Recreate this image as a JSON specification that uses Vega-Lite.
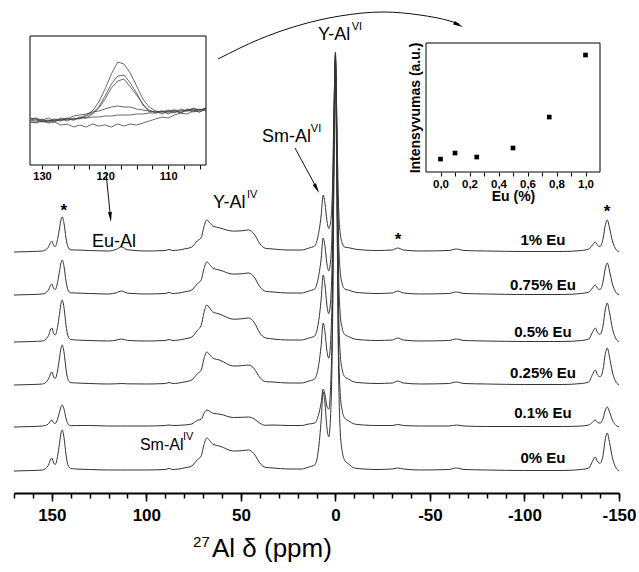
{
"$schema": "https://vega.github.io/schema/vega-lite/v6.json",
"width": 639, "height": 493,
"autosize": {"type": "none"},
"padding": {"left": 0, "top": 0, "right": 0, "bottom": 79},
"background": "white",
"config": {"view": {"stroke": null}, "font": "Liberation Sans"},
"encoding": {
 "x": {"field": "x", "type": "quantitative", "scale": {"domain": [170, -150], "range": [14, 619], "nice": false, "zero": false}, "axis": null},
 "y": {"field": "y", "type": "quantitative", "scale": {"domain": [0, 471], "range": [471, 0], "nice": false, "zero": false}, "axis": null}
},
"layer": [
 {"data": {"values": [{"x": 0, "y": 0}]},
  "mark": {"type": "point", "opacity": 0},
  "encoding": {"x": {"field": "x", "type": "quantitative",
    "scale": {"domain": [170, -150], "range": [14, 619], "nice": false, "zero": false},
    "axis": {"title": null, "orient": "bottom",
     "values": [170,160,150,140,130,120,110,100,90,80,70,60,50,40,30,20,10,0,-10,-20,-30,-40,-50,-60,-70,-80,-90,-100,-110,-120,-130,-140,-150],
     "labels": false, "domain": false, "grid": false, "tickColor": "#000", "tickWidth": 1.5, "tickSize": 5}}}},
 {"data": {"values": [
   {"x":170,"a":219,"b":176,"c":129,"d":86,"f":44,"g":0},
   {"x":160,"a":219.5,"b":176.5,"c":129.5,"d":86.5,"f":44.5,"g":0.5},
   {"x":155,"a":220,"b":177,"c":130,"d":87,"f":45,"g":1},
   {"x":152,"a":223.4,"b":180.4,"c":134.6,"d":91.2,"f":46.8,"g":5.2},
   {"x":150,"a":230,"b":187,"c":143,"d":99,"f":51,"g":13},
   {"x":149,"a":225.6,"b":182.6,"c":137.4,"d":93.8,"f":48.2,"g":7.8},
   {"x":148.2,"a":224.5,"b":181.5,"c":136,"d":92.5,"f":47.5,"g":6.5},
   {"x":147,"a":231.3,"b":188.3,"c":143.7,"d":100,"f":51.7,"g":14.4},
   {"x":146,"a":241.8,"b":198.8,"c":156.3,"d":112,"f":58.3,"g":26.7},
   {"x":145,"a":252.3,"b":209.3,"c":168.9,"d":124,"f":64.9,"g":39},
   {"x":144.5,"a":254,"b":211,"c":171,"d":126,"f":66,"g":41},
   {"x":143.5,"a":247,"b":204,"c":162.6,"d":118,"f":61.6,"g":32.8},
   {"x":142.5,"a":233,"b":190,"c":145.8,"d":102,"f":52.8,"g":16.4},
   {"x":141.5,"a":224.3,"b":181.3,"c":135.3,"d":92,"f":47.3,"g":6.2},
   {"x":140,"a":221.1,"b":178.1,"c":131.5,"d":88.4,"f":45.3,"g":2.5},
   {"x":137,"a":221,"b":178,"c":131,"d":88,"f":45.5,"g":2},
   {"x":130,"a":220.5,"b":177.5,"c":130.5,"d":87.5,"f":45.5,"g":1.5},
   {"x":120,"a":220,"b":177,"c":130,"d":87,"f":45,"g":1},
   {"x":116,"a":221.6,"b":178.2,"c":130.8,"d":87.2,"f":45,"g":1},
   {"x":113,"a":224,"b":180,"c":132,"d":87.5,"f":45,"g":1},
   {"x":110,"a":221.2,"b":177.9,"c":130.6,"d":87.2,"f":45,"g":1},
   {"x":100,"a":220,"b":177,"c":130,"d":87,"f":45,"g":1},
   {"x":90,"a":220.5,"b":177.5,"c":130.5,"d":87.5,"f":45.5,"g":1.5},
   {"x":88,"a":221.5,"b":178.5,"c":131.5,"d":88.5,"f":46,"g":2.5},
   {"x":86,"a":220.5,"b":177.5,"c":130.5,"d":87.5,"f":45.5,"g":1.5},
   {"x":80,"a":222,"b":179,"c":132,"d":89,"f":46,"g":3},
   {"x":76,"a":224,"b":181,"c":134,"d":91,"f":47,"g":5},
   {"x":73,"a":230.2,"b":187.3,"c":140.7,"d":97.3,"f":50.7,"g":11.3},
   {"x":71,"a":233.4,"b":190.9,"c":145.7,"d":100.9,"f":51.7,"g":14.9},
   {"x":69.5,"a":244.6,"b":202.4,"c":158.6,"d":112.4,"f":57.6,"g":26.4},
   {"x":68,"a":251,"b":209,"c":166,"d":119,"f":61,"g":33},
   {"x":66.5,"a":248.4,"b":206.4,"c":163,"d":116.4,"f":59.6,"g":30.4},
   {"x":65,"a":245.2,"b":203.1,"c":159.3,"d":113.1,"f":57.9,"g":27.1},
   {"x":61,"a":243,"b":200.8,"c":156.8,"d":110.8,"f":56.8,"g":24.8},
   {"x":54,"a":239.9,"b":196.9,"c":151.8,"d":105,"f":53.5,"g":20},
   {"x":49,"a":240.3,"b":197.3,"c":152.3,"d":105.4,"f":53.7,"g":20.4},
   {"x":46,"a":241,"b":198,"c":153,"d":106,"f":54,"g":21},
   {"x":43,"a":237,"b":194,"c":148.7,"d":102.4,"f":52.2,"g":17.2},
   {"x":40,"a":227.4,"b":184.4,"c":138.1,"d":93.6,"f":47.8,"g":8},
   {"x":37,"a":222.7,"b":179.7,"c":133.1,"d":89.4,"f":45.7,"g":3.6},
   {"x":33,"a":222,"b":179,"c":132,"d":89,"f":46,"g":3},
   {"x":25,"a":221,"b":178,"c":131,"d":88,"f":45.5,"g":2},
   {"x":18,"a":221,"b":178,"c":131,"d":88,"f":45.5,"g":2},
   {"x":14,"a":223,"b":180,"c":133,"d":90,"f":47,"g":4},
   {"x":11,"a":225,"b":182,"c":135,"d":92,"f":48,"g":6},
   {"x":9,"a":236.6,"b":193.6,"c":148,"d":104.3,"f":55.7,"g":20.9},
   {"x":7.5,"a":256,"b":213,"c":172.6,"d":126.3,"f":68.7,"g":51.4},
   {"x":6.5,"a":276,"b":233,"c":196,"d":148,"f":82,"g":79},
   {"x":5.5,"a":267.5,"b":224.5,"c":186,"d":138.7,"f":76.3,"g":67.2},
   {"x":4.5,"a":250.4,"b":207.4,"c":165.9,"d":120.1,"f":64.9,"g":43.5},
   {"x":3.5,"a":242.6,"b":200.1,"c":157.4,"d":112.8,"f":61.9,"g":34.2},
   {"x":2.5,"a":249.6,"b":211.3,"c":171.4,"d":130.7,"f":86.3,"g":57.5},
   {"x":1.5,"a":286.2,"b":259.7,"c":230.5,"d":199,"f":165.5,"g":146},
   {"x":0.75,"a":363,"b":355.3,"c":346.5,"d":328.3,"f":304.3,"g":312.8},
   {"x":0,"a":411,"b":415,"c":419,"d":409,"f":391,"g":417},
   {"x":-0.75,"a":353.4,"b":343.3,"c":332,"d":312.1,"f":286.9,"g":291.9},
   {"x":-1.5,"a":276.6,"b":247.7,"c":216,"d":182.9,"f":148.1,"g":125.1},
   {"x":-2.5,"a":238.2,"b":199.9,"c":158,"d":118.3,"f":78.7,"g":41.7},
   {"x":-3.5,"a":228.6,"b":188,"c":143.5,"d":102.2,"f":61.4,"g":20.9},
   {"x":-5,"a":223.8,"b":182,"c":136.3,"d":94.1,"f":52.7,"g":10.4},
   {"x":-7,"a":223.3,"b":180.9,"c":134.5,"d":91.9,"f":50.2,"g":7},
   {"x":-10,"a":222,"b":179,"c":132,"d":89,"f":47,"g":3},
   {"x":-15,"a":221,"b":178,"c":131,"d":88,"f":46,"g":2},
   {"x":-22,"a":220.5,"b":177.5,"c":130.5,"d":87.5,"f":45.5,"g":1.5},
   {"x":-30,"a":221,"b":178,"c":131,"d":88,"f":45.5,"g":2},
   {"x":-33,"a":223,"b":180,"c":133,"d":90,"f":46.5,"g":3},
   {"x":-36,"a":221,"b":178,"c":131,"d":88,"f":45.5,"g":2},
   {"x":-45,"a":220,"b":177,"c":130,"d":87,"f":45,"g":1},
   {"x":-60,"a":220.5,"b":177.5,"c":130.5,"d":87.5,"f":45,"g":1.5},
   {"x":-64,"a":222,"b":179,"c":132,"d":89,"f":46,"g":3},
   {"x":-68,"a":220.5,"b":177.5,"c":130.5,"d":87.5,"f":45,"g":1.5},
   {"x":-80,"a":220,"b":177,"c":130,"d":87,"f":44.5,"g":1},
   {"x":-100,"a":219.5,"b":176.5,"c":129.5,"d":86.5,"f":44.5,"g":0.5},
   {"x":-120,"a":219.5,"b":176.5,"c":129.5,"d":86.5,"f":44.5,"g":0.5},
   {"x":-130,"a":220.5,"b":177.5,"c":130.5,"d":87.5,"f":45,"g":1.5},
   {"x":-134,"a":222,"b":179,"c":132,"d":89,"f":46,"g":3},
   {"x":-136,"a":226,"b":183,"c":138.8,"d":96.5,"f":48.9,"g":9.8},
   {"x":-137.5,"a":229,"b":186,"c":143,"d":101,"f":51,"g":14},
   {"x":-138.5,"a":226,"b":183,"c":138.8,"d":96.5,"f":48.9,"g":9.8},
   {"x":-140,"a":224.5,"b":181.5,"c":136.7,"d":94.3,"f":47.9,"g":7.7},
   {"x":-141.5,"a":231.8,"b":188.8,"c":144.6,"d":100.8,"f":52,"g":15.2},
   {"x":-142.8,"a":246.2,"b":203.2,"c":162.2,"d":117.5,"f":61,"g":32.3},
   {"x":-143.8,"a":251,"b":208,"c":168,"d":123,"f":64,"g":38},
   {"x":-145,"a":243,"b":200,"c":158.3,"d":113.8,"f":59,"g":28.5},
   {"x":-146.5,"a":230.2,"b":187.2,"c":142.7,"d":99,"f":51,"g":13.3},
   {"x":-148,"a":222.8,"b":179.8,"c":133.7,"d":90.4,"f":46.4,"g":4.6},
   {"x":-150,"a":219,"b":176,"c":129,"d":86,"f":44,"g":0}
  ]},
  "transform": [{"fold": ["a","b","c","d","f","g"], "as": ["s","y"]}],
  "mark": {"type": "line", "interpolate": "monotone", "stroke": "#333", "strokeWidth": 1},
  "encoding": {
   "x": {"field": "x", "type": "quantitative",
    "scale": {"domain": [170, -150], "range": [14, 619], "nice": false, "zero": false},
    "axis": {"title": null, "orient": "bottom",
     "values": [150,100,50,0,-50,-100,-150],
     "labelExpr": "'' + datum.value",
     "grid": false, "domainColor": "#000", "domainWidth": 2, "tickColor": "#000", "tickWidth": 1.5, "tickSize": 8,
     "labelFontSize": 17, "labelFontWeight": "bold", "labelColor": "#000", "labelPadding": 6,
     "labelOverlap": false, "labelFlush": false, "labelBound": false}},
   "detail": {"field": "s"}
  }},
 {"data": {"values": [
   {"arrow":"curve","x":62.1,"y":412},{"arrow":"curve","x":39.9,"y":432},{"arrow":"curve","x":18.7,"y":446},
   {"arrow":"curve","x":-2.4,"y":455},{"arrow":"curve","x":-25.2,"y":459},{"arrow":"curve","x":-44.7,"y":456},
   {"arrow":"curve","x":-60.6,"y":450},{"arrow":"curve","x":-65.5,"y":447},
   {"arrow":"eu","x":121.3,"y":298},{"arrow":"eu","x":119.1,"y":256},
   {"arrow":"sm","x":21.4,"y":323},{"arrow":"sm","x":10.2,"y":284}
  ]},
  "mark": {"type": "line", "interpolate": "monotone", "stroke": "#111", "strokeWidth": 1},
  "encoding": {"detail": {"field": "arrow"}}},
 {"data": {"values": [{"x":-65.1,"y":446.1}]},
  "mark": {"type": "point", "shape": "M0,-1L0.38,1L-0.38,1Z", "size": 100, "filled": true, "color": "#000", "opacity": 1, "angle": 115}},
 {"data": {"values": [{"x":119.0,"y":254}]},
  "mark": {"type": "point", "shape": "M0,-1L0.38,1L-0.38,1Z", "size": 100, "filled": true, "color": "#000", "opacity": 1, "angle": 174}},
 {"data": {"values": [{"x":9.9,"y":282.4}]},
  "mark": {"type": "point", "shape": "M0,-1L0.38,1L-0.38,1Z", "size": 100, "filled": true, "color": "#000", "opacity": 1, "angle": 152}},
 {"data": {"values": [
   {"t":"Y-Al","x":9.2,"y":431},{"t":"Sm-Al","x":38.8,"y":329},{"t":"Y-Al","x":64.7,"y":263},{"t":"Eu-Al","x":128.7,"y":224}
  ]},
  "mark": {"type": "text", "align": "left", "baseline": "alphabetic", "fontSize": 18, "color": "#000"},
  "encoding": {"text": {"field": "t"}}},
 {"data": {"values": [{"t":"Sm-Al","x":103.4,"y":21}]},
  "mark": {"type": "text", "align": "left", "baseline": "alphabetic", "fontSize": 16, "color": "#000"},
  "encoding": {"text": {"field": "t"}}},
 {"data": {"values": [
   {"t":"VI","x":-8.6,"y":441},{"t":"VI","x":13.0,"y":339},{"t":"IV","x":46.8,"y":273},{"t":"IV","x":80.6,"y":31}
  ]},
  "mark": {"type": "text", "align": "left", "baseline": "alphabetic", "fontSize": 11, "color": "#000"},
  "encoding": {"text": {"field": "t"}}},
 {"data": {"values": [
   {"t":"*","x":143.6,"y":255},{"t":"*","x":-33.1,"y":226},{"t":"*","x":-143.7,"y":254}
  ]},
  "mark": {"type": "text", "align": "center", "baseline": "alphabetic", "fontSize": 17, "fontWeight": "bold", "color": "#000"},
  "encoding": {"text": {"field": "t"}}},
 {"data": {"values": [
   {"t":"1% Eu","x":-109.8,"y":231},{"t":"0.75% Eu","x":-109.8,"y":186},{"t":"0.5% Eu","x":-109.8,"y":139},
   {"t":"0.25% Eu","x":-109.8,"y":98},{"t":"0.1% Eu","x":-109.8,"y":58},{"t":"0% Eu","x":-109.8,"y":13}
  ]},
  "mark": {"type": "text", "align": "center", "baseline": "middle", "fontSize": 15, "fontWeight": "bold", "color": "#000"},
  "encoding": {"text": {"field": "t"}}},
 {"data": {"values": [{"t":"Al δ (ppm)","x":65.3,"y":-86}]},
  "mark": {"type": "text", "align": "left", "baseline": "alphabetic", "fontSize": 26, "color": "#000"},
  "encoding": {"text": {"field": "t"}}},
 {"data": {"values": [{"t":"27","x":75.3,"y":-76}]},
  "mark": {"type": "text", "align": "left", "baseline": "alphabetic", "fontSize": 15, "color": "#000"},
  "encoding": {"text": {"field": "t"}}},
 {"data": {"values": [{"x": 131.9, "x1": 104, "y": 0, "y1": 129}]},
  "mark": {"type": "rect", "fill": "white", "stroke": "#000", "strokeWidth": 1},
  "encoding": {
   "x": {"field": "x", "type": "quantitative", "scale": {"domain": [131.9, 104], "range": [30, 206], "nice": false, "zero": false}, "axis": null},
   "x2": {"field": "x1"},
   "y": {"field": "y", "type": "quantitative", "scale": {"domain": [0, 129], "range": [165, 36], "nice": false, "zero": false}, "axis": null},
   "y2": {"field": "y1"}}},
 {"data": {"values": [
   {"x":131.8,"a":45,"b":43,"c":45,"d":46,"e":47,"f":43},
   {"x":131,"a":44,"b":42,"c":46,"d":47,"e":46,"f":43},
   {"x":130,"a":46,"b":44,"c":43,"d":45,"e":44,"f":44},
   {"x":129,"a":43,"b":45,"c":44,"d":47,"e":42,"f":44},
   {"x":128,"a":45,"b":43,"c":46,"d":44,"e":43,"f":45},
   {"x":127,"a":44,"b":46,"c":45,"d":47,"e":40,"f":45},
   {"x":126,"a":47,"b":44,"c":46,"d":46,"e":41,"f":46},
   {"x":125,"a":45,"b":47,"c":45,"d":49,"e":38,"f":46},
   {"x":124,"a":47,"b":46,"c":48,"d":50,"e":40,"f":47},
   {"x":123,"a":50,"b":49,"c":47,"d":51,"e":38,"f":47},
   {"x":122,"a":54,"b":52,"c":51,"d":53,"e":41,"f":48},
   {"x":121,"a":63,"b":58,"c":57,"d":54,"e":39,"f":48},
   {"x":120,"a":76,"b":69,"c":66,"d":56,"e":40,"f":49},
   {"x":119,"a":91,"b":81,"c":77,"d":58,"e":38,"f":49},
   {"x":118,"a":103,"b":89,"c":84,"d":59,"e":41,"f":50},
   {"x":117,"a":101,"b":90,"c":86,"d":58,"e":39,"f":50},
   {"x":116,"a":92,"b":82,"c":78,"d":58,"e":41,"f":50},
   {"x":115,"a":79,"b":72,"c":70,"d":56,"e":40,"f":51},
   {"x":114,"a":66,"b":60,"c":61,"d":55,"e":42,"f":51},
   {"x":113,"a":58,"b":55,"c":53,"d":54,"e":44,"f":52},
   {"x":112,"a":54,"b":52,"c":54,"d":53,"e":46,"f":52},
   {"x":111,"a":53,"b":54,"c":51,"d":54,"e":48,"f":53},
   {"x":110,"a":55,"b":51,"c":54,"d":53,"e":47,"f":53},
   {"x":109,"a":52,"b":54,"c":55,"d":55,"e":50,"f":53},
   {"x":108,"a":56,"b":52,"c":52,"d":54,"e":52,"f":54},
   {"x":107,"a":54,"b":55,"c":56,"d":55,"e":51,"f":54},
   {"x":106,"a":57,"b":53,"c":55,"d":56,"e":54,"f":55},
   {"x":105,"a":55,"b":56,"c":53,"d":55,"e":53,"f":55},
   {"x":104,"a":56,"b":54,"c":57,"d":57,"e":56,"f":56}
  ]},
  "transform": [{"fold": ["a","b","c","d","e","f"], "as": ["s","y"]}],
  "mark": {"type": "line", "stroke": "#444", "strokeWidth": 0.8},
  "encoding": {
   "x": {"field": "x", "type": "quantitative",
    "scale": {"domain": [131.9, 104], "range": [30, 206], "nice": false, "zero": false},
    "axis": {"title": null, "orient": "bottom", "offset": -328,
     "values": [130,127.5,125,122.5,120,117.5,115,112.5,110,107.5,105],
     "labelExpr": "datum.value % 10 === 0 ? '' + datum.value : ''",
     "grid": false, "domain": false, "tickColor": "#000", "tickWidth": 1, "tickSize": 4,
     "labelFontSize": 11, "labelFontWeight": "bold", "labelColor": "#000", "labelPadding": 1,
     "labelOverlap": false, "labelFlush": false, "labelBound": false}},
   "y": {"field": "y", "type": "quantitative",
    "scale": {"domain": [0, 129], "range": [165, 36], "nice": false, "zero": false}, "axis": null},
   "detail": {"field": "s"}
  }},
 {"data": {"values": [{"x": -0.1, "x1": 1.1, "y": 0, "y1": 1}]},
  "mark": {"type": "rect", "fill": "white", "stroke": "#000", "strokeWidth": 1},
  "encoding": {
   "x": {"field": "x", "type": "quantitative", "scale": {"domain": [-0.1, 1.1], "range": [426, 600], "nice": false, "zero": false}, "axis": null},
   "x2": {"field": "x1"},
   "y": {"field": "y", "type": "quantitative", "scale": {"domain": [0, 1], "range": [172, 43], "nice": false, "zero": false}, "axis": null},
   "y2": {"field": "y1"}}},
 {"data": {"values": [
   {"x":0,"y":0.10},{"x":0.1,"y":0.147},{"x":0.25,"y":0.116},{"x":0.5,"y":0.186},{"x":0.75,"y":0.426},{"x":1.0,"y":0.907}
  ]},
  "mark": {"type": "point", "shape": "square", "size": 22, "filled": true, "color": "#000", "opacity": 1},
  "encoding": {
   "x": {"field": "x", "type": "quantitative",
    "scale": {"domain": [-0.1, 1.1], "range": [426, 600], "nice": false, "zero": false},
    "axis": {"title": "Eu (%)", "orient": "bottom", "offset": -321,
     "values": [0,0.1,0.2,0.3,0.4,0.5,0.6,0.7,0.8,0.9,1.0],
     "labelExpr": "round(datum.value*10) % 2 === 0 ? replace(format(datum.value, '.1f'), '.', ',') : ''",
     "grid": false, "domain": false, "tickColor": "#000", "tickWidth": 1, "tickSize": 4,
     "labelFontSize": 11.5, "labelFontWeight": "bold", "labelColor": "#000", "labelPadding": 2,
     "labelOverlap": false, "labelFlush": false, "labelBound": false,
     "titleFontSize": 14, "titleFontWeight": "bold", "titleColor": "#000", "titlePadding": 0}},
   "y": {"field": "y", "type": "quantitative",
    "scale": {"domain": [0, 1], "range": [172, 43], "nice": false, "zero": false},
    "axis": {"title": "Intensyvumas (a.u.)", "orient": "left", "offset": -426,
     "domain": false, "ticks": false, "labels": false, "grid": false,
     "titleFontSize": 14, "titleFontWeight": "bold", "titleColor": "#000", "titlePadding": 4}}
  }}
],
"resolve": {"scale": {"x": "independent", "y": "independent"}, "axis": {"x": "independent", "y": "independent"}}
}
